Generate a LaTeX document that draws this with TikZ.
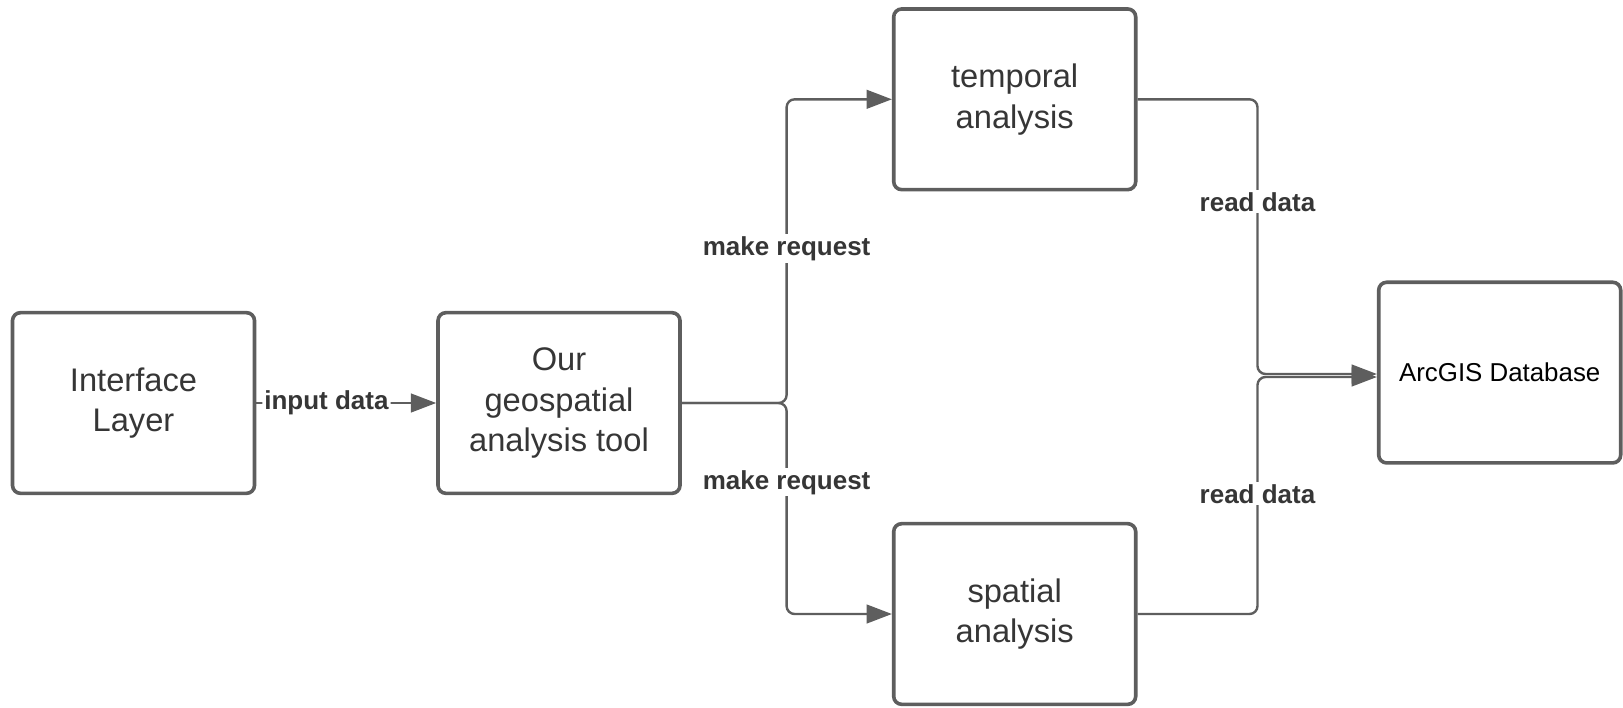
\documentclass[tikz,border=0pt]{standalone}
\usepackage{fontspec}
\setmainfont{Liberation Sans}
\usetikzlibrary{arrows.meta,calc}
\definecolor{edge}{HTML}{5E5E5E}
\definecolor{txt}{HTML}{363636}
\begin{document}
\begin{tikzpicture}[x=0.75pt,y=-0.75pt,
  box/.style={draw=edge,line width=2.7pt,rounded corners=6pt,minimum width=181.5pt,minimum height=135.5pt,align=center,text=txt,font=\fontsize{24.5}{30.5}\selectfont,inner sep=0pt},
  conn/.style={draw=edge,line width=1.8pt,rounded corners=6pt},
  tip/.style={-{Triangle[length=19pt,width=14pt]}},
  lbl/.style={fill=white,text=txt,font=\fontsize{19.5}{23}\selectfont\bfseries,inner sep=1.5pt}]
\useasboundingbox (0,0) rectangle (1623,707);
\node[box] (iface) at (133.5,403) {Interface\\Layer};
\node[box] (tool) at (559,403) {Our\\geospatial\\analysis tool};
\node[box] (temporal) at (1014.7,99.3) {temporal\\analysis};
\node[box] (spatial) at (1014.7,614) {spatial\\analysis};
\node[box,text=black,font=\fontsize{19.4}{23}\selectfont] (arcgis) at (1499.7,372.6) {ArcGIS Database};
\coordinate (jx) at (786.6,0);
\coordinate (rx) at (1257.5,0);
\coordinate (a1) at ($(arcgis.west)+(0,1.4)$);
\coordinate (a2) at ($(arcgis.west)+(0,4.4)$);
% input data
\draw[conn,tip] (iface.east) -- node[lbl,pos=0.39] (lin) {input data} (tool.west);
% make request
\draw[conn,tip] (tool.east) -- (tool.east -| jx) -- (jx |- temporal.west) -- (temporal.west);
\draw[conn,tip] (tool.east) -- (tool.east -| jx) -- (jx |- spatial.west) -- (spatial.west);
\node[lbl] (lmr1) at (786.6,248.4) {make request};
\node[lbl] (lmr2) at (786.6,482.3) {make request};
% read data
\draw[conn,tip] (temporal.east) -- (temporal.east -| rx) -- (rx |- a1) -- (a1);
\draw[conn,tip] (spatial.east) -- (spatial.east -| rx) -- (rx |- a2) -- (a2);
\node[lbl] (lrd1) at (1257.5,201.8) {read data};
\node[lbl] (lrd2) at (1257.5,493.7) {read data};
\end{tikzpicture}
\end{document}
